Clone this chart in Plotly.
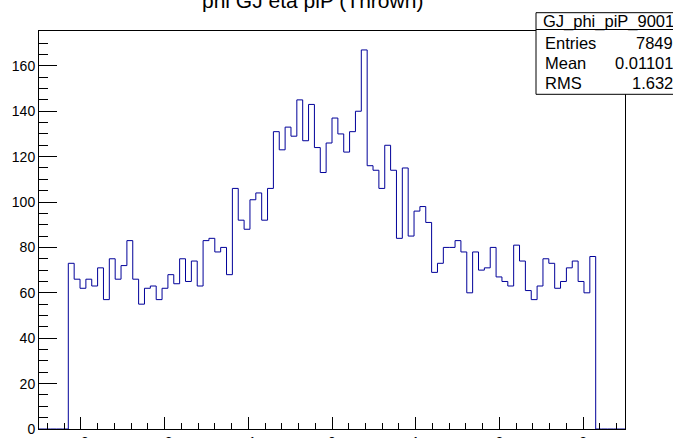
import plotly.graph_objects as go

# Histogram binning: 100 bins over [-3.5, 3.5]
NBINS = 100
XMIN, XMAX = -3.5, 3.5

# Bin contents (bins 0-4 and 95-99 are empty)
filled_counts = [
    73, 66, 62, 66, 63, 71, 57, 75, 66, 72,
    83, 66, 55, 62, 63, 57, 62, 68, 64, 75,
    65, 74, 63, 83, 84, 78, 80, 68, 106, 92,
    88, 101, 104, 92, 106, 131, 123, 133, 129, 145,
    127, 143, 124, 113, 126, 137, 130, 122, 131, 140,
    167, 116, 114, 106, 125, 114, 84, 115, 85, 96,
    98, 91, 69, 73, 80, 80, 83, 78, 60, 78,
    70, 71, 80, 67, 65, 63, 81, 74, 61, 57,
    63, 75, 73, 62, 65, 71, 74, 65, 60, 76,
]
counts = [0] * 5 + filled_counts + [0] * 5

hist_name = "GJ_phi_piP_9001"
title_text = "phi GJ eta piP (Thrown)"
stat_labels = ["Entries", "Mean", "RMS"]
stat_values = [str(sum(counts)), "0.01101", "1.632"]

width = (XMAX - XMIN) / NBINS
edges = [XMIN + i * width for i in range(NBINS + 1)]
ymax = max(counts) * 1.05

FONT = "Liberation Sans, Arial, Helvetica, sans-serif"
LINE = "#000099"

fig = go.Figure()
fig.add_trace(go.Scatter(
    x=edges,
    y=counts + [counts[-1]],
    mode="lines",
    line=dict(shape="hv", color=LINE, width=1),
    hoverinfo="skip",
))

W, H = 673, 438
ml, mr, mt, mb = 39, 48, 31, 9
pw, ph = W - ml - mr, H - mt - mb


def px(xp):
    return (xp - ml) / pw


def py(yp):
    return (H - mb - yp) / ph


axis_common = dict(
    showline=True, mirror=True, linecolor="black", linewidth=1,
    ticks="inside", tickcolor="black", tickwidth=1,
    showgrid=False, zeroline=False, automargin=False,
    tickfont=dict(family=FONT, size=14, color="black"),
)

fig.update_layout(
    width=W, height=H,
    margin=dict(l=ml, r=mr, t=mt, b=mb, autoexpand=False),
    paper_bgcolor="white", plot_bgcolor="white",
    showlegend=False,
    xaxis=dict(
        range=[XMIN, XMAX], tick0=0, dtick=1, ticklen=12,
        minor=dict(dtick=0.2, ticklen=6, ticks="inside", tickcolor="black", showgrid=False),
        **axis_common,
    ),
    yaxis=dict(
        range=[0, ymax], tick0=0, dtick=20, ticklen=18,
        minor=dict(dtick=5, ticklen=9, ticks="inside", tickcolor="black", showgrid=False),
        **axis_common,
    ),
)

# Statistics box
bx0, bx1, by0, by1 = 536, 681, 12.7, 94.3
fig.add_shape(type="rect", xref="paper", yref="paper",
              x0=px(bx0), x1=px(bx1), y0=py(by1), y1=py(by0),
              line=dict(color="black", width=1), fillcolor="white", layer="above")
fig.add_shape(type="line", xref="paper", yref="paper",
              x0=px(bx0), x1=px(bx1), y0=py(29.5), y1=py(29.5),
              line=dict(color="black", width=1), layer="above")

fig.add_annotation(xref="paper", yref="paper", x=px((bx0 + bx1) / 2), y=py(22),
                   text=hist_name, showarrow=False, xanchor="center", yanchor="middle",
                   font=dict(family=FONT, size=16.5, color="black"))
for i, (lab, val) in enumerate(zip(stat_labels, stat_values)):
    yc = 43.3 + 20 * i
    fig.add_annotation(xref="paper", yref="paper", x=px(542.5), y=py(yc),
                       text=lab, showarrow=False, xanchor="left", yanchor="middle",
                       font=dict(family=FONT, size=16.5, color="black"))
    fig.add_annotation(xref="paper", yref="paper", x=px(674.5), y=py(yc),
                       text=val, showarrow=False, xanchor="right", yanchor="middle",
                       font=dict(family=FONT, size=16.5, color="black"))

# Histogram title
fig.add_annotation(xref="paper", yref="paper", x=px(312), y=py(0.7),
                   text=title_text, showarrow=False, xanchor="center", yanchor="middle",
                   font=dict(family=FONT, size=21, color="black"))

fig.write_html("out.html")
